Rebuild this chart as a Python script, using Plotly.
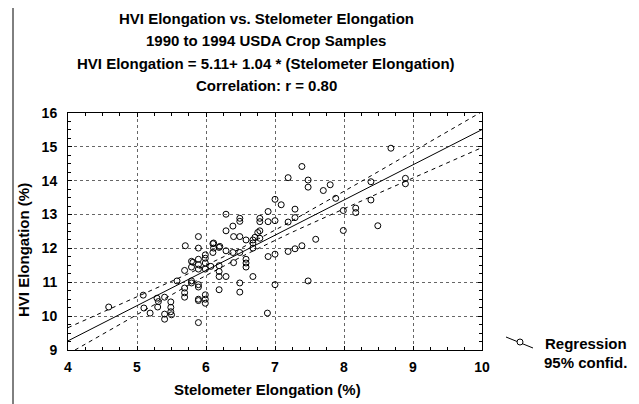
import numpy as np
import plotly.graph_objects as go

# ---- data ----
x_stel = [4.59, 5.09, 5.10, 5.19, 5.29, 5.31, 5.30, 5.40, 5.40, 5.40, 5.49, 5.49, 5.49, 5.50,
          5.58, 5.69, 5.69, 5.69, 5.69, 5.70, 5.79, 5.79, 5.79, 5.79, 5.81,
          5.89, 5.89, 5.89, 5.89, 5.89, 5.89, 5.89, 5.89, 5.89, 5.89,
          5.99, 5.99, 5.99, 5.99, 5.99, 5.99, 5.99, 6.07, 6.10, 6.10, 6.11, 6.11,
          6.19, 6.19, 6.19, 6.19, 6.19, 6.20, 6.29, 6.29, 6.29, 6.29,
          6.39, 6.39, 6.40, 6.40, 6.49, 6.49, 6.49, 6.49, 6.49, 6.49,
          6.58, 6.58, 6.58, 6.58, 6.68, 6.68, 6.68, 6.68, 6.71, 6.75,
          6.78, 6.78, 6.78, 6.78, 6.89, 6.90, 6.90, 6.90,
          7.00, 7.00, 7.00, 7.00, 7.09, 7.19, 7.19, 7.19, 7.29, 7.29, 7.29,
          7.39, 7.39, 7.48, 7.48, 7.48, 7.59, 7.70, 7.80, 7.88, 7.99, 7.99,
          8.17, 8.17, 8.39, 8.39, 8.49, 8.68, 8.89, 8.89]
y_hvi = [10.27, 10.62, 10.24, 10.09, 10.53, 10.43, 10.27, 10.56, 10.06, 9.91, 10.42, 10.26, 10.13, 10.04,
         11.04, 10.83, 10.69, 10.56, 11.35, 12.08, 11.04, 11.62, 10.98, 11.45, 11.59,
         12.35, 12.01, 11.68, 11.52, 11.39, 10.86, 10.93, 10.46, 10.50, 9.81,
         11.81, 11.71, 11.57, 11.39, 10.63, 10.50, 10.38, 11.47, 12.14, 11.88, 12.16, 12.01,
         12.03, 11.49, 11.32, 11.17, 10.78, 12.06, 13.01, 12.52, 11.93, 11.17,
         12.66, 11.88, 12.35, 11.58, 12.89, 12.80, 12.35, 11.88, 10.98, 10.71,
         12.25, 11.68, 11.57, 11.45, 12.25, 12.16, 12.01, 11.17, 12.33, 12.47,
         12.89, 12.79, 12.52, 12.30, 10.09, 13.09, 12.79, 11.76,
         13.45, 12.82, 11.83, 10.93, 13.29, 14.09, 12.78, 11.91, 13.16, 12.91, 11.99,
         14.42, 12.08, 14.02, 13.81, 11.04, 12.27, 13.71, 13.88, 13.48, 13.12, 12.53,
         13.19, 13.06, 13.97, 13.43, 12.67, 14.96, 14.07, 13.91]

intercept = 5.11
slope = 1.04
x_ticks = [4, 5, 6, 7, 8, 9, 10]
y_ticks = [9, 10, 11, 12, 13, 14, 15, 16]

title_lines = ["HVI Elongation vs. Stelometer Elongation",
               "1990 to 1994 USDA Crop Samples",
               "HVI Elongation = 5.11+ 1.04 * (Stelometer Elongation)",
               "Correlation: r = 0.80"]

# ---- regression line and 95% confidence band ----
xa = np.array(x_stel)
ya = np.array(y_hvi)
n = len(xa)
resid = ya - (intercept + slope * xa)
s = np.sqrt(np.sum(resid ** 2) / (n - 2))
xm = xa.mean()
sxx = np.sum((xa - xm) ** 2)
tval = 1.98
xs = np.linspace(4, 10, 61)
fit = intercept + slope * xs
hw = tval * s * np.sqrt(1.0 / n + (xs - xm) ** 2 / sxx)

# page has an 8px body margin: the figure is drawn 8px in from the corner
OFF = 8
W, H = 631, 396
L = 68 - OFF
T = 113 - OFF
R = W - (482 - OFF)
B = H - (350 - OFF)
PW, PH = W - L - R, H - T - B


def px(p):
    return (p - OFF - L) / PW


def py(p):
    return (H - B - (p - OFF)) / PH


FONT = "Liberation Sans, Arial, sans-serif"

fig = go.Figure()
fig.add_trace(go.Scatter(x=xs, y=fit + hw, mode="lines",
                         line=dict(color="black", width=1, dash="4px,4px"), hoverinfo="skip"))
fig.add_trace(go.Scatter(x=xs, y=fit - hw, mode="lines",
                         line=dict(color="black", width=1, dash="4px,4px"), hoverinfo="skip"))
fig.add_trace(go.Scatter(x=xs, y=fit, mode="lines",
                         line=dict(color="black", width=1), hoverinfo="skip"))
fig.add_trace(go.Scatter(x=x_stel, y=y_hvi, mode="markers",
                         marker=dict(symbol="circle-open", size=6, color="black",
                                     line=dict(width=1, color="black"))))

axis_common = dict(
    showline=True, linecolor="black", linewidth=1, mirror="allticks",
    ticks="inside", ticklen=4, tickcolor="black",
    showgrid=True, gridcolor="#666666", griddash="dot", gridwidth=1,
    zeroline=False,
    tickfont=dict(family=FONT, size=14, color="black", weight="bold"),
    minor=dict(ticks="inside", ticklen=3, tickcolor="black", dtick=0.25, showgrid=False),
)

fig.update_xaxes(range=[4, 10], tickvals=x_ticks, ticklabelstandoff=4, **axis_common)
fig.update_yaxes(range=[9, 16], tickvals=y_ticks, ticklabelstandoff=7, **axis_common)

ann = []
for i, t in enumerate(title_lines):
    ann.append(dict(text="<b>%s</b>" % t, x=px(266), y=py(18 + i * 22.6),
                    xref="paper", yref="paper", showarrow=False,
                    xanchor="center", yanchor="middle",
                    font=dict(family=FONT, size=15, color="black")))
ann.append(dict(text="<b>Stelometer Elongation (%)</b>", x=px(267), y=py(389),
                xref="paper", yref="paper", showarrow=False, xanchor="center", yanchor="middle",
                font=dict(family=FONT, size=15, color="black")))
ann.append(dict(text="<b>HVI Elongation (%)</b>", x=px(23), y=py(250), textangle=-90,
                xref="paper", yref="paper", showarrow=False, xanchor="center", yanchor="middle",
                font=dict(family=FONT, size=15, color="black")))
ann.append(dict(text="<b>Regression</b>", x=px(543), y=py(343),
                xref="paper", yref="paper", showarrow=False, xanchor="left", yanchor="middle",
                font=dict(family=FONT, size=15, color="black")))
ann.append(dict(text="<b>95% confid.</b>", x=px(542), y=py(362),
                xref="paper", yref="paper", showarrow=False, xanchor="left", yanchor="middle",
                font=dict(family=FONT, size=15, color="black")))

shapes = [
    dict(type="rect", xref="paper", yref="paper", x0=px(13), x1=px(634), y0=py(5), y1=py(420),
         line=dict(color="black", width=1), fillcolor="rgba(0,0,0,0)", layer="below"),
    dict(type="line", xref="paper", yref="paper", x0=px(506), y0=py(337), x1=px(533), y1=py(348),
         line=dict(color="black", width=1)),
    dict(type="circle", xref="paper", yref="paper", x0=px(517), x1=px(523), y0=py(339), y1=py(345),
         line=dict(color="black", width=1), fillcolor="white"),
]

fig.update_layout(
    width=W, height=H,
    margin=dict(l=L, r=R, t=T, b=B, pad=0),
    paper_bgcolor="white", plot_bgcolor="white",
    showlegend=False,
    annotations=ann, shapes=shapes,
    font=dict(family=FONT, color="black"),
)

fig.write_html("out.html")
